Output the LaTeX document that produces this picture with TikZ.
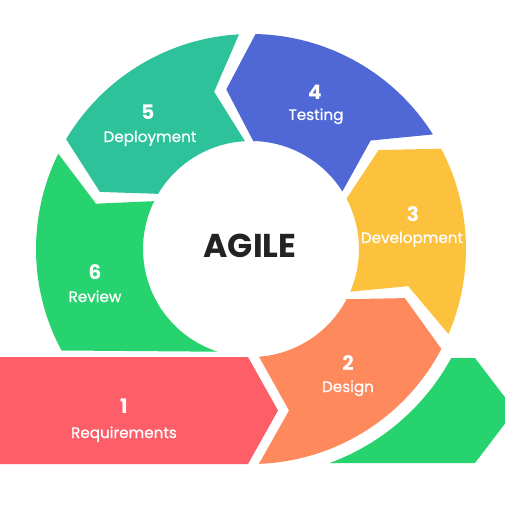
\documentclass[tikz,border=0pt]{standalone}
\usepackage{fontspec}
\setmainfont{Poppins}
\newfontfamily\popmed{Poppins}[FakeBold=0.7]
\definecolor{cRed}{RGB}{254,94,104}
\definecolor{cOrange}{RGB}{253,137,93}
\definecolor{cYellow}{RGB}{252,194,62}
\definecolor{cBlue}{RGB}{80,104,214}
\definecolor{cTeal}{RGB}{46,194,155}
\definecolor{cGreen}{RGB}{39,211,110}
\definecolor{cDark}{RGB}{35,35,35}
\def\Ro{215pt}
\def\Ri{108pt}
\def\Rm{161.5pt}
\begin{document}
\begin{tikzpicture}[x=1pt,y=1pt,
  num/.style={text=white, font=\bfseries\fontsize{20}{20}\selectfont, anchor=base, inner sep=0pt},
  lbl/.style={text=white, font=\popmed\fontsize{15.2}{15.2}\selectfont, anchor=base, inner sep=0pt},
  title/.style={text=cDark, font=\bfseries\fontsize{33}{33}\selectfont, anchor=base, inner sep=0pt}]
\useasboundingbox (-251,-256) rectangle (254,249);
\clip (-251,-256) rectangle (254,249);
\fill[white] (-251,-256) rectangle (254,249);
% 1 requirements bar
\fill[cRed] (-260,-108) -- (-3,-108) -- (27,-161.5) -- (-3,-215) -- (-260,-215) -- cycle;
% green bar at the bottom right
\fill[cGreen] (224,-109) -- (264,-161.5) -- (224,-214) -- (78.7,-214)
  arc[start angle=-69.8, end angle=-28.6, radius=228pt] -- cycle;
% 2 design
\fill[cOrange] (-27.7:\Ro) arc[start angle=-27.7, end angle=-87.87, radius=\Ro]
  -- (38,-161.5) -- (-85.75:\Ri) arc[start angle=-85.75, end angle=-27.7, radius=\Ri]
  -- (-17.7:\Rm) -- cycle;
% 3 development
\fill[cYellow] (-23.3:\Ro) arc[start angle=-23.3, end angle=27.8, radius=\Ro]
  -- (37.8:\Rm) -- (27.8:\Ri) arc[start angle=27.8, end angle=-23.3, radius=\Ri]
  -- (-13.3:\Rm) -- cycle;
% 4 testing
\fill[cBlue] (32.2:\Ro) arc[start angle=32.2, end angle=88.8, radius=\Ro]
  -- (98.8:\Rm) -- (88.8:\Ri) arc[start angle=88.8, end angle=32.2, radius=\Ri]
  -- (42.2:\Rm) -- cycle;
% 5 deployment
\fill[cTeal] (93.2:\Ro) arc[start angle=93.2, end angle=149.3, radius=\Ro]
  -- (159.3:\Rm) -- (149.3:\Ri) arc[start angle=149.3, end angle=93.2, radius=\Ri]
  -- (103.2:\Rm) -- cycle;
% 6 review
\fill[cGreen] (153.7:\Ro) arc[start angle=153.7, end angle=208.17, radius=\Ro]
  -- (252:\Ri) arc[start angle=252, end angle=153.7, radius=\Ri]
  -- (163.7:\Rm) -- cycle;
% texts
\node[title] (agile) at (-1,-9) {AGILE};
\node[num] (n1) at (-127,-164) {1};
\node[lbl] (l1) at (-127,-189) {Requirements};
\node[num] (n2) at (97,-121) {2};
\node[lbl] (l2) at (97,-143) {Design};
\node[num] (n3) at (162,27) {3};
\node[lbl] (l3) at (161,6) {Development};
\node[num] (n4) at (64,149) {4};
\node[lbl] (l4) at (65,129) {Testing};
\node[num] (n5) at (-103,129) {5};
\node[lbl] (l5) at (-101,107) {Deployment};
\node[num] (n6) at (-156,-31) {6};
\node[lbl] (l6) at (-156,-53) {Review};
\end{tikzpicture}
\end{document}
